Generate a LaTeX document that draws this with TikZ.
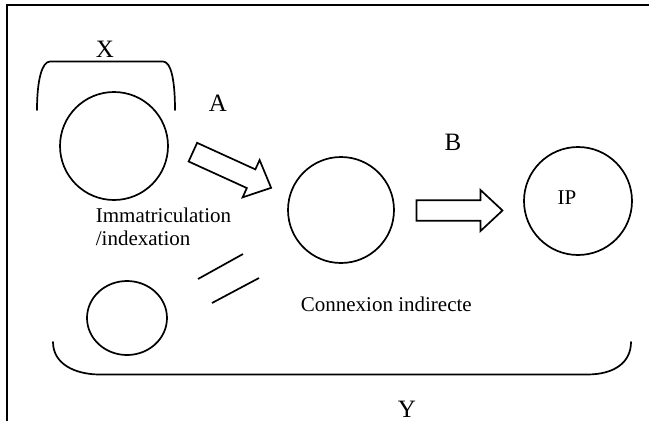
\documentclass[tikz,border=0pt]{standalone}
\usepackage{fontspec}
\setmainfont{Liberation Serif}
\usetikzlibrary{shapes.geometric}
\begin{document}
\begin{tikzpicture}[x=1pt,y=-1pt,
  line width=1.7pt,
  ring/.style={draw, circle, inner sep=0pt, line width=1.7pt},
  small/.style={font=\fontsize{21}{23}\selectfont, inner sep=0pt},
  big/.style={font=\fontsize{25}{30}\selectfont, inner sep=0pt},
  brace/.style={draw, line width=1.7pt, line cap=round},
  blockarrow/.pic={\draw[line width=1.7pt, line join=miter]
      (-43,-10.25) -- (21,-10.25) -- (21,-20.5) -- (43,0)
      -- (21,20.5) -- (21,10.25) -- (-43,10.25) -- cycle;}]
\useasboundingbox (0,0) rectangle (649,421);

% outer frame (open at right and bottom)
\draw[line width=2pt] (649,5) -- (7,5) -- (7,421);

% circles
\node[ring, minimum size=108pt] (c1) at (114,146) {};
\node[ring, minimum size=106pt] (c2) at (341,210) {};
\node[ring, minimum size=108pt] (ip) at (578,201) {};
\node[draw, ellipse, inner sep=0pt, line width=1.7pt,
      minimum width=80pt, minimum height=74pt] (c4) at (127,318) {};

% block arrows
\pic[rotate=-24.5] at (232,170) {blockarrow};
\pic at (459.5,210.5) {blockarrow};

% double stroke between the lower circle and the middle one
\draw (198,279) -- (243,254);
\draw (212,303) -- (259,278);

% brackets
\draw[brace] (37,110) .. controls (37,80) and (42,61.5) .. (50,61.5)
  -- (163,61.5) .. controls (171,61.5) and (175,80) .. (175,110);
\draw[brace] (53,342) .. controls (53,364) and (75,374.5) .. (100,374.5)
  -- (587,374.5) .. controls (615,374.5) and (631,362) .. (631,342);

% labels
\node[big, anchor=base] (lx) at (105,57.5) {X};
\node[big, anchor=base] (la) at (218,111.5) {A};
\node[big, anchor=base] (lb) at (453,150.5) {B};
\node[big, anchor=base] (ly) at (407,417) {Y};
\node[small, anchor=base] (ipt) at (567,204) {IP};
\node[small, anchor=base west, align=left] (imm) at (95,245) {Immatriculation\\/indexation};
\node[small, anchor=base west] (conn) at (300,311) {Connexion indirecte};
\end{tikzpicture}
\end{document}
